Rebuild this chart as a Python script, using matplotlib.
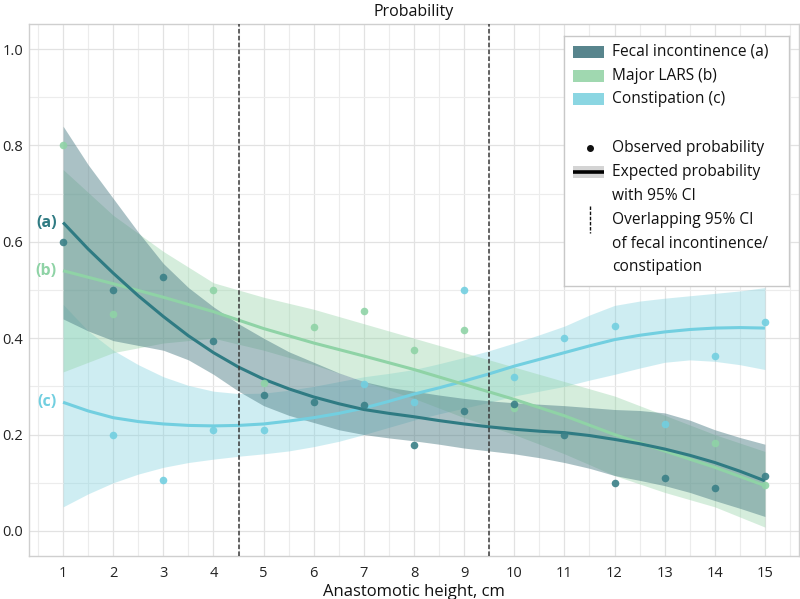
import numpy as np
import matplotlib
matplotlib.use("Agg")
import matplotlib.pyplot as plt
from matplotlib.patches import Rectangle

plt.rcParams['font.family'] = ['Open Sans', 'DejaVu Sans']

# ---------------- data ----------------
heights = [1, 2, 3, 4, 5, 6, 7, 8, 9, 10, 11, 12, 13, 14, 15]

# observed probabilities (NaN where a point is hidden under another one)
fecal_obs = [0.60, 0.50, 0.527, 0.394, 0.282, 0.268, 0.261, 0.179, 0.249, 0.263, 0.200, 0.099, 0.110, 0.090, 0.115]
lars_obs = [0.80, 0.45, np.nan, 0.50, 0.308, 0.423, 0.456, 0.375, 0.416, 0.256, np.nan, np.nan, np.nan, 0.182, 0.096]
const_obs = [np.nan, 0.20, 0.105, 0.21, 0.21, np.nan, 0.304, 0.268, 0.50, 0.32, 0.40, 0.425, 0.222, 0.363, 0.433]

# fitted curves for fecal incontinence and constipation, read every 0.5 cm
fit_x = [1, 1.5, 2, 2.5, 3, 3.5, 4, 4.5, 5, 5.5, 6, 6.5, 7, 7.5, 8, 8.5, 9, 9.5,
         10, 10.5, 11, 11.5, 12, 12.5, 13, 13.5, 14, 14.5, 15]

fecal_fit = [0.64, 0.585, 0.535, 0.488, 0.445, 0.405, 0.37, 0.34, 0.315, 0.295, 0.278, 0.264,
             0.252, 0.244, 0.237, 0.229, 0.222, 0.216, 0.211, 0.207, 0.204, 0.198, 0.19, 0.181,
             0.17, 0.157, 0.142, 0.124, 0.104]
fecal_hi = [0.84, 0.76, 0.69, 0.62, 0.555, 0.505, 0.465, 0.43, 0.40, 0.372, 0.35, 0.328,
            0.31, 0.298, 0.29, 0.282, 0.275, 0.27, 0.266, 0.263, 0.26, 0.256, 0.252, 0.25,
            0.245, 0.23, 0.21, 0.194, 0.18]
fecal_lo = [0.44, 0.415, 0.395, 0.385, 0.375, 0.355, 0.325, 0.29, 0.26, 0.24, 0.225, 0.21,
            0.20, 0.193, 0.187, 0.18, 0.172, 0.166, 0.16, 0.152, 0.142, 0.13, 0.115, 0.105,
            0.094, 0.08, 0.063, 0.047, 0.03]

const_fit = [0.267, 0.249, 0.235, 0.227, 0.222, 0.219, 0.218, 0.219, 0.222, 0.228, 0.235, 0.244,
             0.255, 0.269, 0.284, 0.297, 0.311, 0.326, 0.342, 0.356, 0.37, 0.384, 0.397, 0.406,
             0.413, 0.418, 0.421, 0.422, 0.421]
const_hi = [0.47, 0.415, 0.375, 0.345, 0.32, 0.302, 0.29, 0.285, 0.286, 0.292, 0.30, 0.31,
            0.32, 0.327, 0.335, 0.347, 0.36, 0.374, 0.39, 0.407, 0.425, 0.448, 0.468, 0.477,
            0.483, 0.488, 0.493, 0.498, 0.505]
const_lo = [0.05, 0.077, 0.10, 0.118, 0.132, 0.142, 0.149, 0.155, 0.16, 0.166, 0.175, 0.186,
            0.20, 0.215, 0.23, 0.243, 0.255, 0.267, 0.28, 0.29, 0.30, 0.313, 0.325, 0.338,
            0.35, 0.355, 0.352, 0.345, 0.335]

# Major LARS (nearly straight), read at every cm
lars_fit = [0.54, 0.513, 0.485, 0.455, 0.42, 0.39, 0.363, 0.335, 0.304, 0.273, 0.239, 0.2, 0.166, 0.132, 0.094]
lars_hi = [0.75, 0.655, 0.58, 0.515, 0.485, 0.46, 0.43, 0.40, 0.37, 0.34, 0.31, 0.28, 0.24, 0.20, 0.165]
lars_lo = [0.33, 0.37, 0.39, 0.40, 0.375, 0.345, 0.31, 0.275, 0.235, 0.20, 0.16, 0.115, 0.08, 0.05, 0.008]

overlap_bounds = [4.5, 9.5]

series_names = ["Fecal incontinence (a)", "Major LARS (b)", "Constipation (c)"]
series_tags = ["(a)", "(b)", "(c)"]

# ---------------- style ----------------
c_fecal_fill, c_fecal_line, c_fecal_pt = '#4f7f87', '#2f7b83', '#3a8087'
c_lars_fill, c_lars_line, c_lars_pt = '#96d4a8', '#8fd3a6', '#8fd3a6'
c_const_fill, c_const_line, c_const_pt = '#7fd2df', '#72cfe0', '#72cfe0'

fig = plt.figure(figsize=(8.0, 5.99), dpi=100)
ax = fig.add_axes([29/800, 1-556/599, 770/800, 532/599])

x = np.array(heights, dtype=float)
fx = np.array(fit_x, dtype=float)

# bands
ax.fill_between(fx, const_lo, const_hi, color=c_const_fill, alpha=0.38, lw=0, zorder=2)
ax.fill_between(x, lars_lo, lars_hi, color=c_lars_fill, alpha=0.40, lw=0, zorder=2)
ax.fill_between(fx, fecal_lo, fecal_hi, color=c_fecal_fill, alpha=0.48, lw=0, zorder=2)

# lines
ax.plot(fx, const_fit, color=c_const_line, lw=2.2, zorder=3, solid_capstyle='butt')
ax.plot(x, lars_fit, color=c_lars_line, lw=2.2, zorder=3, solid_capstyle='butt')
ax.plot(fx, fecal_fit, color=c_fecal_line, lw=2.2, zorder=3, solid_capstyle='butt')

# points
ax.scatter(x, const_obs, s=30, color=c_const_pt, lw=0, zorder=4, alpha=0.9)
ax.scatter(x, lars_obs, s=30, color=c_lars_pt, lw=0, zorder=4, alpha=0.9)
ax.scatter(x, fecal_obs, s=30, color=c_fecal_pt, lw=0, zorder=4, alpha=0.9)

# overlap lines
for b in overlap_bounds:
    ax.axvline(b, color='#3a3a3a', lw=1.1, ls=(0, (3, 1.5)), zorder=5)

# series tags
tag_cols = [c_fecal_line, c_lars_pt, c_const_pt]
tag_y = [fecal_fit[0], lars_fit[0], const_fit[0]]
for t, yv, c in zip(series_tags, tag_y, tag_cols):
    ax.text(0.87, yv, t, color=c, fontsize=11.5, fontweight='bold', ha='right', va='center', zorder=6)

# axes styling
ax.set_xlim(0.32, 15.68)
ax.set_ylim(-0.052, 1.052)
ax.set_xticks(heights)
ax.set_xticks(np.arange(0.5, 16, 1.0), minor=True)
ax.set_yticks([0.0, 0.2, 0.4, 0.6, 0.8, 1.0])
ax.set_yticks([0.1, 0.3, 0.5, 0.7, 0.9], minor=True)
ax.set_yticklabels(['0.0', '0.2', '0.4', '0.6', '0.8', '1.0'])
ax.grid(True, which='major', color='#e2e2e2', lw=0.9, zorder=0)
ax.grid(True, which='minor', color='#ececec', lw=0.8, zorder=0)
ax.set_axisbelow(True)
ax.tick_params(which='both', length=0, labelsize=10.5, colors='#222222')
ax.tick_params(axis='x', pad=7)
ax.tick_params(axis='y', pad=4)
for s in ax.spines.values():
    s.set_color('#cfcfcf')
    s.set_linewidth(1.0)
ax.set_title('Probability', fontsize=11.5, pad=6, color='#111111')
ax.set_xlabel('Anastomotic height, cm', fontsize=12, labelpad=2, color='#111111')

# ---------------- legend (drawn manually) ----------------
lg = fig.add_axes([564/800, 1-286/599, 225/800, 250/599])
lg.set_xlim(0, 225)
lg.set_ylim(250, 0)
lg.set_xticks([]); lg.set_yticks([])
for s in lg.spines.values():
    s.set_color('#c8c8c8'); s.set_linewidth(1.0)
lg.set_zorder(10)

fs = 11.2
tx = 48
patch_cols = [c_fecal_fill, c_lars_fill, c_const_fill]
for i, (nm, pc) in enumerate(zip(series_names, patch_cols)):
    yc = 16 + 23.7 * i
    lg.add_patch(Rectangle((9, yc - 6), 31, 12, color=pc, alpha=0.95 if i == 0 else 0.9, lw=0))
    lg.text(tx, yc, nm, fontsize=fs, va='center', ha='left', color='#111111')

lg.plot([26], [112], 'o', color='#111111', ms=4)
lg.text(tx, 112, 'Observed probability', fontsize=fs, va='center', ha='left', color='#111111')

lg.add_patch(Rectangle((9, 130), 31, 12, color='#d4d4d4', lw=0))
lg.plot([9, 40], [136, 136], color='#000000', lw=2.6, solid_capstyle='butt')
lg.text(tx, 136, 'Expected probability', fontsize=fs, va='center', ha='left', color='#111111')
lg.text(tx, 160, 'with 95% CI', fontsize=fs, va='center', ha='left', color='#111111')

lg.plot([26, 26], [170, 197], color='#111111', lw=1.0, ls=(0, (2.5, 1.2)))
lg.text(tx, 184, 'Overlapping 95% CI', fontsize=fs, va='center', ha='left', color='#111111')
lg.text(tx, 207.5, 'of fecal incontinence/', fontsize=fs, va='center', ha='left', color='#111111')
lg.text(tx, 231, 'constipation', fontsize=fs, va='center', ha='left', color='#111111')

fig.savefig('out.png', dpi=100)
